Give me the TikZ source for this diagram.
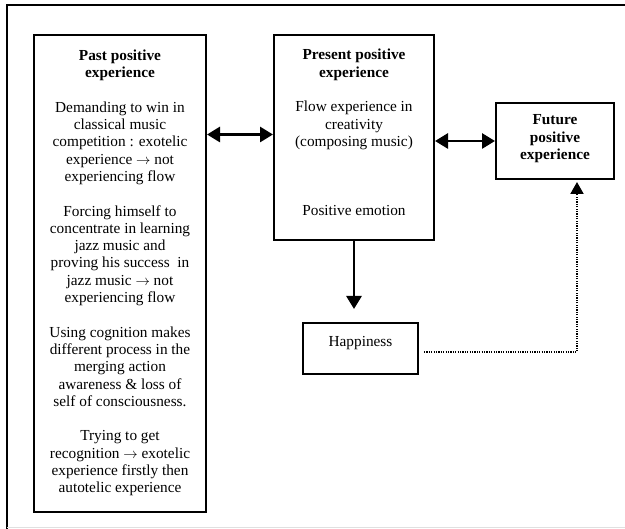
\documentclass[tikz,border=0pt]{standalone}
\usepackage{fontspec}
\setmainfont{Liberation Serif}
\usetikzlibrary{arrows.meta}
\begin{document}
\begin{tikzpicture}[x=1pt,y=-1pt,
  boxst/.style={draw,line width=2pt,inner sep=0pt},
  txt/.style={align=center,inner sep=0pt,font=\fontsize{15.3}{17.3}\selectfont,anchor=north},
  conn/.style={line width=2.8pt,-{Triangle[length=13pt,width=15pt]}},
  dconn/.style={line width=2.8pt,{Triangle[length=13pt,width=15pt]}-{Triangle[length=13pt,width=15pt]}},
  dotconn/.style={line width=2pt,dash pattern=on 1.2pt off 1.2pt,-{Triangle[length=12pt,width=13pt]}},
  frame/.style={line width=2pt}]
\useasboundingbox (0,0) rectangle (625,529);
% outer frame (cropped)
\coordinate (fa) at (7,529);
\coordinate (fb) at (7,5);
\coordinate (fc) at (625,5);
\draw[frame] (fa) -- (fb) -- (fc);
\coordinate (fd) at (7,528);
\coordinate (fe) at (625,528);
\draw[black!12,line width=1pt] (fd) -- (fe);
% boxes
\node[boxst,minimum width=172pt,minimum height=477pt] (past) at (120,273.5) {};
\node[boxst,minimum width=160pt,minimum height=205pt] (pres) at (354,137.5) {};
\node[boxst,minimum width=118pt,minimum height=76pt] (fut) at (555,141) {};
\node[boxst,minimum width=115pt,minimum height=51pt] (happ) at (360.5,348.5) {};
% texts
\node[txt] (pastT) at ([yshift=-15.5pt]past.north) {\textbf{Past positive}\\\textbf{experience}\\[17.3pt]
Demanding to win in\\classical music\\competition : exotelic\\experience \(\rightarrow\) not\\experiencing flow\\[17.3pt]
Forcing himself to\\concentrate in learning\\jazz music and\\proving his success\ \ in\\jazz music \(\rightarrow\) not\\experiencing flow\\[17.3pt]
Using cognition makes\\different process in the\\merging action\\awareness \& loss of\\self of consciousness.\\[17.3pt]
Trying to get\\recognition \(\rightarrow\) exotelic\\experience firstly then\\autotelic experience};
\node[txt] (presT) at ([yshift=-15pt]pres.north) {\textbf{Present positive}\\\textbf{experience}\\[17.3pt]
Flow experience in\\creativity\\(composing music)\\[51.9pt]
Positive emotion};
\node[txt] (futT) at ([yshift=-12.5pt]fut.north) {\textbf{Future}\\\textbf{positive}\\\textbf{experience}};
\node[txt] (happT) at ([yshift=-14.5pt]happ.north) {Happiness};
% connectors
\coordinate (pw) at ([yshift=3pt]pres.west);
\draw[dconn] (past.east |- pw) -- (pw);
\draw[dconn] (pres.east |- fut.west) -- (fut.west);
\coordinate (ht) at ([yshift=13pt]happ.north -| pres.south);
\draw[conn] (pres.south) -- (ht);
\coordinate (hs) at ([xshift=5pt,yshift=-3.5pt]happ.east);
\coordinate (fs) at ([xshift=22pt,yshift=-2pt]fut.south);
\draw[dotconn] (hs) -| (fs);
\end{tikzpicture}
\end{document}
